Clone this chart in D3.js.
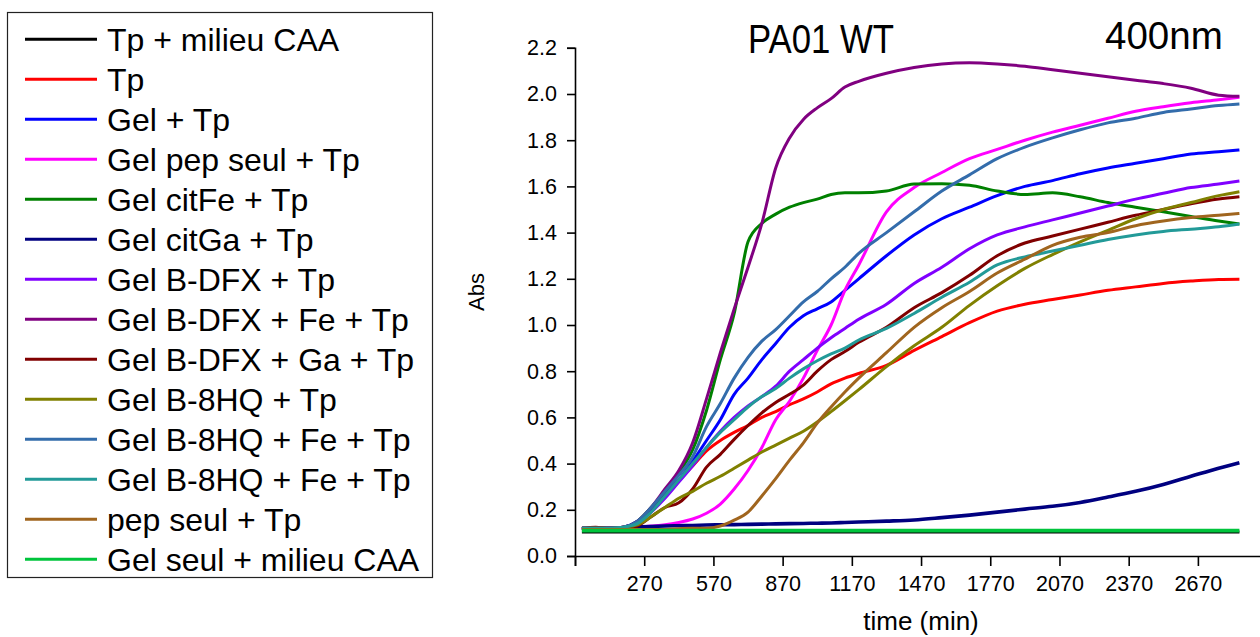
<!DOCTYPE html>
<html>
<head>
<meta charset="utf-8">
<script src="https://cdn.jsdelivr.net/npm/d3@7"></script>
<style>
  html, body { margin: 0; padding: 0; background: #fff; }
  svg { display: block; font-family: "Liberation Sans", Arial, sans-serif; }
</style>
</head>
<body>
<svg id="chart" width="1260" height="637"></svg>
<script>
// ---------------- data ----------------
const times = [0, 60, 120, 180, 240, 300, 360, 420, 480, 540, 600, 660, 720, 780, 840, 900, 960, 1020, 1080, 1140, 1200, 1320, 1440, 1560, 1680, 1800, 1920, 2040, 2160, 2280, 2400, 2520, 2640, 2760, 2850];

const seriesNames = ["Tp + milieu CAA", "Tp", "Gel + Tp", "Gel pep seul + Tp", "Gel citFe + Tp", "Gel citGa + Tp", "Gel B-DFX + Tp", "Gel B-DFX + Fe + Tp", "Gel B-DFX + Ga + Tp", "Gel B-8HQ + Tp", "Gel B-8HQ + Fe + Tp", "Gel B-8HQ + Fe + Tp", "pep seul + Tp", "Gel seul + milieu CAA"];
const seriesColors = ["#000000", "#ff0000", "#0000ff", "#ff00ff", "#008000", "#000080", "#8000ff", "#800080", "#800000", "#808000", "#336cab", "#229a98", "#a0651e", "#00c43c"];

const tpMilieuCAA = [0.104, 0.104, 0.104, 0.104, 0.104, 0.104, 0.104, 0.104, 0.104, 0.104, 0.104, 0.104, 0.104, 0.104, 0.104, 0.104, 0.104, 0.104, 0.104, 0.104, 0.104, 0.104, 0.104, 0.104, 0.104, 0.104, 0.104, 0.104, 0.104, 0.104, 0.104, 0.104, 0.104, 0.104, 0.104];
const tp = [0.12, 0.12, 0.12, 0.125, 0.145, 0.20, 0.27, 0.33, 0.39, 0.455, 0.50, 0.535, 0.565, 0.60, 0.625, 0.655, 0.68, 0.71, 0.745, 0.77, 0.79, 0.825, 0.89, 0.95, 1.01, 1.06, 1.09, 1.11, 1.13, 1.15, 1.165, 1.18, 1.19, 1.197, 1.198];
const gelTp = [0.12, 0.12, 0.12, 0.125, 0.15, 0.20, 0.27, 0.33, 0.41, 0.50, 0.59, 0.70, 0.77, 0.85, 0.92, 0.99, 1.04, 1.07, 1.10, 1.15, 1.20, 1.30, 1.39, 1.46, 1.51, 1.56, 1.60, 1.625, 1.655, 1.68, 1.70, 1.72, 1.74, 1.75, 1.758];
const gelPepTp = [0.12, 0.12, 0.12, 0.12, 0.125, 0.13, 0.135, 0.145, 0.16, 0.185, 0.225, 0.29, 0.37, 0.47, 0.59, 0.67, 0.77, 0.89, 1.00, 1.15, 1.26, 1.49, 1.595, 1.66, 1.72, 1.76, 1.80, 1.835, 1.865, 1.895, 1.925, 1.945, 1.962, 1.975, 1.986];
const gelCitFeTp = [0.12, 0.12, 0.12, 0.125, 0.15, 0.21, 0.28, 0.36, 0.46, 0.63, 0.85, 1.05, 1.36, 1.44, 1.48, 1.51, 1.53, 1.545, 1.565, 1.572, 1.572, 1.58, 1.61, 1.612, 1.605, 1.58, 1.565, 1.572, 1.555, 1.53, 1.51, 1.49, 1.47, 1.45, 1.437];
const gelCitGaTp = [0.115, 0.118, 0.12, 0.122, 0.125, 0.128, 0.13, 0.131, 0.132, 0.134, 0.135, 0.136, 0.137, 0.138, 0.139, 0.14, 0.141, 0.142, 0.143, 0.145, 0.147, 0.151, 0.156, 0.166, 0.177, 0.19, 0.203, 0.215, 0.232, 0.255, 0.28, 0.31, 0.345, 0.38, 0.404];
const gelBDFXTp = [0.12, 0.12, 0.12, 0.125, 0.145, 0.19, 0.25, 0.32, 0.39, 0.47, 0.54, 0.60, 0.65, 0.69, 0.735, 0.80, 0.85, 0.90, 0.945, 0.985, 1.025, 1.09, 1.18, 1.25, 1.33, 1.39, 1.425, 1.455, 1.485, 1.515, 1.545, 1.57, 1.595, 1.61, 1.623];
const gelBDFXFeTp = [0.12, 0.12, 0.12, 0.125, 0.15, 0.21, 0.29, 0.37, 0.49, 0.68, 0.88, 1.07, 1.25, 1.44, 1.68, 1.81, 1.89, 1.94, 1.98, 2.03, 2.055, 2.09, 2.115, 2.13, 2.135, 2.13, 2.12, 2.105, 2.09, 2.075, 2.06, 2.045, 2.025, 1.995, 1.99];
const gelBDFXGaTp = [0.12, 0.125, 0.12, 0.12, 0.13, 0.17, 0.21, 0.23, 0.29, 0.385, 0.44, 0.505, 0.565, 0.62, 0.665, 0.70, 0.74, 0.80, 0.85, 0.885, 0.925, 0.99, 1.075, 1.14, 1.215, 1.30, 1.355, 1.385, 1.415, 1.445, 1.475, 1.50, 1.525, 1.545, 1.555];
const gelB8HQTp = [0.12, 0.12, 0.12, 0.125, 0.135, 0.17, 0.21, 0.25, 0.28, 0.315, 0.345, 0.38, 0.415, 0.45, 0.48, 0.51, 0.54, 0.58, 0.625, 0.672, 0.72, 0.82, 0.91, 0.99, 1.085, 1.17, 1.245, 1.305, 1.36, 1.41, 1.46, 1.50, 1.53, 1.56, 1.577];
const gelB8HQFeTpA = [0.12, 0.12, 0.12, 0.125, 0.15, 0.21, 0.28, 0.35, 0.43, 0.56, 0.66, 0.77, 0.86, 0.93, 0.98, 1.04, 1.10, 1.145, 1.20, 1.25, 1.31, 1.40, 1.49, 1.58, 1.65, 1.72, 1.77, 1.81, 1.845, 1.875, 1.895, 1.92, 1.935, 1.95, 1.957];
const gelB8HQFeTpB = [0.12, 0.12, 0.12, 0.125, 0.14, 0.19, 0.26, 0.33, 0.40, 0.47, 0.535, 0.59, 0.645, 0.69, 0.725, 0.77, 0.81, 0.845, 0.875, 0.90, 0.935, 0.985, 1.05, 1.12, 1.185, 1.26, 1.295, 1.32, 1.345, 1.37, 1.39, 1.405, 1.415, 1.425, 1.437];
const pepSeulTp = [0.115, 0.115, 0.115, 0.115, 0.115, 0.115, 0.115, 0.118, 0.12, 0.12, 0.13, 0.155, 0.19, 0.26, 0.335, 0.415, 0.49, 0.575, 0.645, 0.71, 0.77, 0.88, 0.99, 1.075, 1.145, 1.225, 1.285, 1.345, 1.38, 1.40, 1.43, 1.45, 1.465, 1.475, 1.483];
const gelSeulCAA = [0.11, 0.11, 0.11, 0.11, 0.11, 0.11, 0.11, 0.11, 0.11, 0.11, 0.11, 0.11, 0.11, 0.11, 0.11, 0.11, 0.11, 0.11, 0.11, 0.11, 0.11, 0.11, 0.11, 0.11, 0.11, 0.11, 0.11, 0.11, 0.11, 0.11, 0.11, 0.11, 0.11, 0.11, 0.11];

const seriesValues = [tpMilieuCAA, tp, gelTp, gelPepTp, gelCitFeTp, gelCitGaTp, gelBDFXTp, gelBDFXFeTp, gelBDFXGaTp, gelB8HQTp, gelB8HQFeTpA, gelB8HQFeTpB, pepSeulTp, gelSeulCAA];

const xMajorTicks = [-30, 270, 570, 870, 1170, 1470, 1770, 2070, 2370, 2670, 2970];
const xTickLabels = ["", "270", "570", "870", "1170", "1470", "1770", "2070", "2370", "2670", ""];
const xMinorTicks = [120, 420, 720, 1020, 1320, 1620, 1920, 2220, 2520, 2820];
const yMajorTicks = [0, 0.2, 0.4, 0.6, 0.8, 1.0, 1.2, 1.4, 1.6, 1.8, 2.0, 2.2];
const yMinorTicks = [0.1, 0.3, 0.5, 0.7, 0.9, 1.1, 1.3, 1.5, 1.7, 1.9, 2.1];

const chartTitle = "PA01 WT";
const wavelengthLabel = "400nm";
const xTitle = "time (min)";
const yTitle = "Abs";

// ---------------- drawing ----------------
const svg = d3.select("#chart");
const x = d3.scaleLinear().domain([-30, 2970]).range([575, 1267.1]);
const y = d3.scaleLinear().domain([0, 2.2]).range([556, 47.8]);

const line = d3.line()
  .x((d, i) => x(times[i]))
  .y(d => y(d))
  .curve(d3.curveMonotoneX);

// data lines
const plot = svg.append("g");
seriesValues.forEach((vals, k) => {
  plot.append("path")
    .attr("d", line(vals))
    .attr("fill", "none")
    .attr("stroke", seriesColors[k])
    .attr("stroke-width", k === 5 || k === 13 ? 3.6 : 3)
    .attr("stroke-linejoin", "round")
    .attr("stroke-linecap", "butt");
});

// x axis
const xAxisG = svg.append("g").attr("transform", "translate(0,556)");
xAxisG.call(d3.axisBottom(x).tickValues(xMinorTicks).tickSize(6).tickFormat(""));
xAxisG.call(d3.axisBottom(x).tickValues(xMajorTicks).tickSize(10)
  .tickFormat((d, i) => xTickLabels[i]));
xAxisG.selectAll(".domain").attr("stroke-width", 1.6);
xAxisG.selectAll(".tick line").attr("stroke-width", 1.6);
xAxisG.selectAll("text").attr("y", 35).attr("dy", 0)
  .style("font-size", "21.5px").style("font-family", "'Liberation Sans', Arial, sans-serif").attr("fill", "#000");

// y axis
const yAxisG = svg.append("g").attr("transform", "translate(575,0)");
yAxisG.call(d3.axisLeft(y).tickValues(yMinorTicks).tickSize(4).tickFormat(""));
yAxisG.call(d3.axisLeft(y).tickValues(yMajorTicks).tickSize(8).tickFormat(d3.format(".1f")));
yAxisG.selectAll(".domain").attr("stroke-width", 1.6);
yAxisG.selectAll(".tick line").attr("stroke-width", 1.6);
yAxisG.selectAll("text").attr("x", -18).attr("dy", "0.32em")
  .style("font-size", "21.5px").style("font-family", "'Liberation Sans', Arial, sans-serif").attr("fill", "#000");

// axis titles
svg.append("text")
  .attr("x", 921).attr("y", 630)
  .attr("text-anchor", "middle")
  .style("font-size", "26px")
  .text(xTitle);
svg.append("text")
  .attr("transform", "translate(484,292) rotate(-90)")
  .attr("text-anchor", "middle")
  .style("font-size", "22px")
  .text(yTitle);

// titles
svg.append("text")
  .attr("x", 748).attr("y", 53)
  .attr("textLength", 146).attr("lengthAdjust", "spacingAndGlyphs")
  .style("font-size", "40px")
  .text(chartTitle);
svg.append("text")
  .attr("x", 1105).attr("y", 49)
  .style("font-size", "38.5px")
  .text(wavelengthLabel);

// legend
const legend = svg.append("g");
legend.append("rect")
  .attr("x", 7.5).attr("y", 12.5).attr("width", 425).attr("height", 565)
  .attr("fill", "#fff").attr("stroke", "#222").attr("stroke-width", 1.2);
seriesNames.forEach((name, k) => {
  const cy = 39.3 + 40 * k;
  legend.append("line")
    .attr("x1", 25).attr("x2", 97).attr("y1", cy).attr("y2", cy)
    .attr("stroke", seriesColors[k]).attr("stroke-width", 3);
  legend.append("text")
    .attr("x", 107).attr("y", cy + 11.7)
    .style("font-size", "32px")
    .attr("fill", "#000")
    .text(name);
});
</script>
</body>
</html>
